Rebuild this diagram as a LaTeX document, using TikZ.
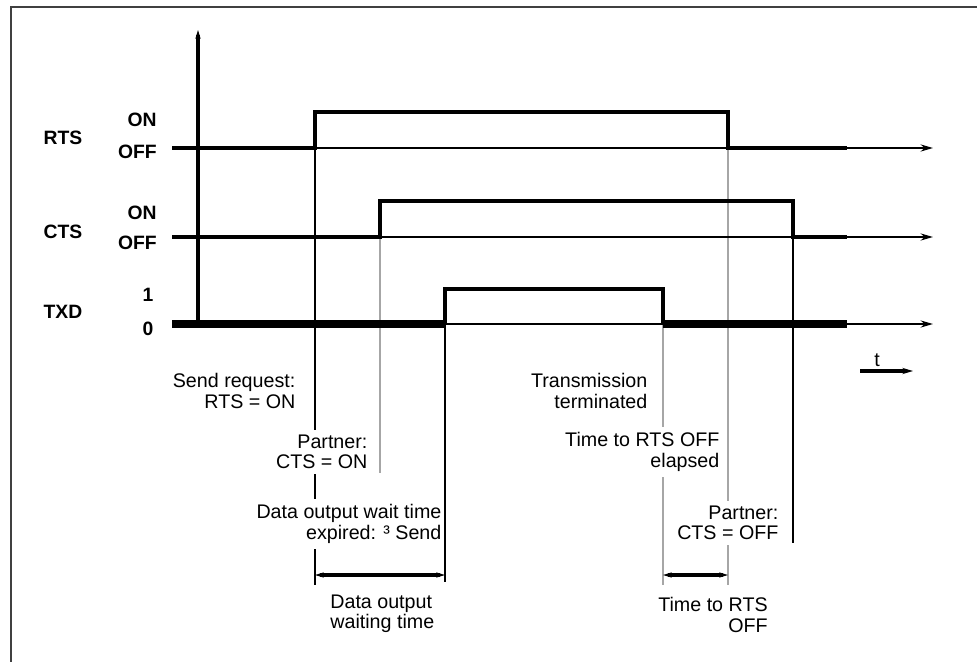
\documentclass[tikz,border=0pt]{standalone}
\usepackage{fontspec}
\setmainfont{Liberation Sans}
\usetikzlibrary{arrows.meta}

\tikzset{
  sigbase/.style={line width=1.5pt, -{Stealth[length=7pt,width=4pt]}},
  sighigh/.style={line width=2.8pt},
  evblack/.style={line width=1.1pt},
  evgray/.style={line width=1.4pt, black!35},
  lbl/.style={fill=white, align=right, anchor=east, inner sep=3pt},
  lvl/.style={font=\fontsize{11}{11}\selectfont\bfseries, inner sep=0pt},
  dimarrow/.style={line width=1.8pt, {Stealth[length=5pt,width=3pt]}-{Stealth[length=5pt,width=3pt]}}
}

\begin{document}
\begin{tikzpicture}[x=0.02cm, y=-0.02cm, font=\fontsize{11.2}{11.5}\selectfont]
  \useasboundingbox (0,0) rectangle (977,662);
  \draw[line width=1.3pt, black!75] (977,7) -- (11,7) -- (11,662);

  % signal edges
  \coordinate (rtsup) at (315,148);
  \coordinate (rtsdown) at (728,148);
  \coordinate (ctsup) at (380,237);
  \coordinate (ctsdown) at (793,237);
  \coordinate (txdup) at (445,324);
  \coordinate (txddown) at (663,324);
  \coordinate (dim) at (0,575);

  % event lines, broken by the labels
  \draw[evblack] (rtsup) -- ++(0,437);
  \draw[evgray] (ctsup) -- ++(0,236);
  \draw[evgray] (txddown) -- ++(0,261);
  \draw[evgray] (rtsdown) -- ++(0,437);

  \node[lbl] (sendreq) at (301,391) {Send request:\\RTS = ON};
  \node[lbl] (ctson) at (373,452) {Partner:\\CTS = ON};
  \node[lbl] (waitexp) at (447,524) {Data output wait time\\expired: ³ Send};
  \node[lbl] (transend) at (653,391) {Transmission\\terminated};
  \node[lbl] (rtsoffel) at (725,452) {Time to RTS OFF\\elapsed};
  \node[lbl] (ctsoff) at (784,523) {Partner:\\CTS = OFF};

  \draw[evblack] (txdup) -- ++(0,258);
  \draw[evblack] (ctsdown) -- ++(0,306);

  % waiting times
  \draw[dimarrow] (rtsup |- dim) -- (txdup |- dim);
  \draw[dimarrow] (txddown |- dim) -- (rtsdown |- dim);
  \node[align=left, anchor=west, inner sep=0pt] (waittime) at (330,614) {Data output\\waiting time};
  \node[align=right, anchor=east, inner sep=0pt] (rtsofftime) at (768,615) {Time to RTS\\OFF};

  % axes and signals
  \draw[line width=2pt, -{Stealth[length=5pt,width=3pt]}] (198,324) -- (198,30);
  \draw[sigbase] (172,148) -- (933,148);
  \draw[sigbase] (172,237) -- (933,237);
  \draw[sigbase] (172,324) -- (933,324);
  \draw[sighigh] (172,148) -- (rtsup) -- ++(0,-36) -| (rtsdown) -- (847,148);
  \draw[sighigh] (172,237) -- (ctsup) -- ++(0,-36) -| (ctsdown) -- (847,237);
  \draw[sighigh] (txdup) -- ++(0,-35) -| (txddown);
  \draw[sighigh, line width=4.2pt] (172,324) -- (txdup);
  \draw[sighigh, line width=4.2pt] (txddown) -- (847,324);

  \node[lvl] (rts) at (63,138) {RTS};
  \node[lvl, anchor=east] (rtson) at (157,120) {ON};
  \node[lvl, anchor=east] (rtsoff) at (157,152) {OFF};
  \node[lvl] (cts) at (63,232) {CTS};
  \node[lvl, anchor=east] (ctson) at (157,213) {ON};
  \node[lvl, anchor=east] (ctsoff) at (157,243) {OFF};
  \node[lvl] (txd) at (63,312) {TXD};
  \node[lvl] (txdone) at (148,295) {1};
  \node[lvl] (txdzero) at (148,329) {0};

  \draw[line width=2pt, -{Stealth[length=6pt,width=3.5pt]}] (860,371) -- (913,371);
  \node[inner sep=0pt] (time) at (877,360) {t};
\end{tikzpicture}
\end{document}
